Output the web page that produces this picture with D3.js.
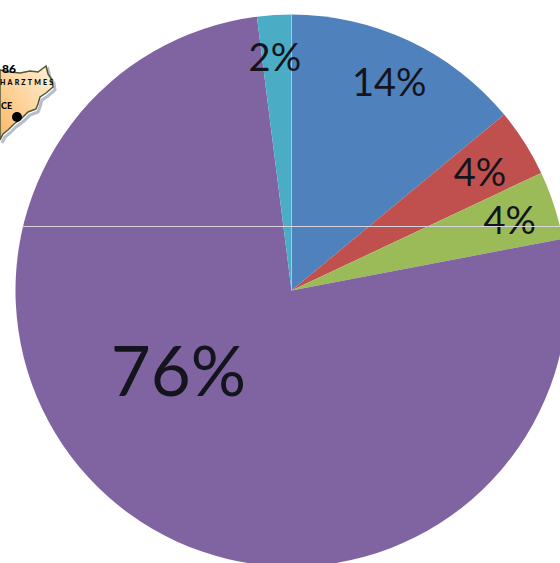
<!DOCTYPE html>
<html>
<head>
<meta charset="utf-8">
<script src="https://cdn.jsdelivr.net/npm/d3@7"></script>
<style>
html, body { margin: 0; padding: 0; background: #fff; }
svg { display: block; }
text { font-family: Lato, "Open Sans", sans-serif; fill: #14141c; }
</style>
</head>
<body>
<div id="chart"></div>
<script>
var categories = ["A", "B", "C", "D", "E"];
var shares = [14, 4, 4, 76, 2];
var sliceColors = ["#4f81bd", "#c0504d", "#9bbb59", "#8064a2", "#4bacc6"];
// label size and nudge away from the arc centroid, per slice
var labelSizes = [38, 38, 38, 69, 38];
var labelNudges = [[39, -70], [72, -31], [87, -14], [-32, -6], [-8, -82]];

var width = 560, height = 563, cx = 291.5, cy = 290.5, radius = 276;

var svg = d3.select("#chart").append("svg").attr("width", width).attr("height", height);

var defs = svg.append("defs");
var grad = defs.append("linearGradient").attr("id", "mapFill")
	.attr("x1", "1").attr("y1", "0").attr("x2", "0").attr("y2", "1");
grad.append("stop").attr("offset", "0").attr("stop-color", "#fff0d6");
grad.append("stop").attr("offset", "0.6").attr("stop-color", "#fdcf92");
grad.append("stop").attr("offset", "1").attr("stop-color", "#fbb768");

// small map scrap at the left edge, drawn first so the pie sits on top
var mapOutline = [[0,70],[10,72],[20,73],[30,71],[38,72],[46,66],[48,74],[52,80],[53,87],[46,93],[40,97],[38,104],[36,109],[28,112],[22,118],[14,124],[8,130],[3,134],[0,140]];
var mapLine = d3.line().curve(d3.curveLinear);
var map = svg.append("g");
map.append("path").attr("d", mapLine(mapOutline.map(function(p){ return [p[0] + 2, p[1] + 3]; }))).attr("fill", "none").attr("stroke", "#b9bccb").attr("stroke-width", 3);
map.append("path").attr("d", mapLine(mapOutline) + "Z").attr("fill", "url(#mapFill)").attr("stroke", "#4d5838").attr("stroke-width", 1.5);
map.append("circle").attr("cx", 17).attr("cy", 117).attr("r", 5).attr("fill", "#000");
map.append("text").attr("x", 2).attr("y", 73).attr("font-size", 12).attr("font-weight", 900).style("fill", "#000").text("86");
map.append("text").attr("x", 0).attr("y", 85).attr("font-size", 7).attr("font-weight", 900).attr("textLength", 53).style("fill", "#000").text("HARZTMES");
map.append("text").attr("x", 1).attr("y", 109).attr("font-size", 9).attr("font-weight", 900).style("fill", "#000").text("CE");

var pie = d3.pie().sort(null).value(function(d){ return d; });
var arc = d3.arc().innerRadius(0).outerRadius(radius);
var arcs = pie(shares);

var g = svg.append("g").attr("transform", "translate(" + cx + "," + cy + ")");

g.selectAll("path")
	.data(arcs)
	.enter()
	.append("path")
	.attr("d", arc)
	.attr("fill", function(d, i){ return sliceColors[i]; });

// pale seam where the blue slice starts
g.append("line").attr("x1", 0).attr("y1", 0).attr("x2", 0).attr("y2", -radius)
	.attr("stroke", "#a9c4dc").attr("stroke-width", 1);

// thin white scan line across the picture
svg.append("line").attr("x1", 22).attr("x2", width).attr("y1", 226.5).attr("y2", 226.5)
	.attr("stroke", "#d8d3de").attr("stroke-width", 1);

g.selectAll("text.pct")
	.data(arcs)
	.enter()
	.append("text")
	.attr("class", "pct")
	.attr("text-anchor", "middle")
	.attr("font-size", function(d, i){ return labelSizes[i]; })
	.attr("x", function(d, i){ return arc.centroid(d)[0] + labelNudges[i][0]; })
	.attr("y", function(d, i){ return arc.centroid(d)[1] + labelNudges[i][1]; })
	.text(function(d, i){ return shares[i] + "%"; });
</script>
</body>
</html>
